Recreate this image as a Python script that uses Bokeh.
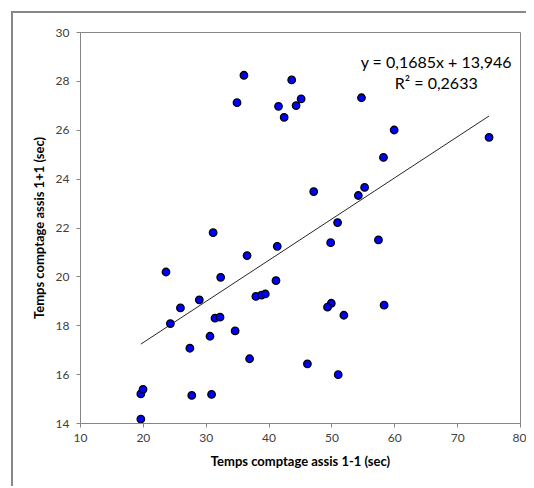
from bokeh.plotting import figure
from bokeh.models import Label, FixedTicker, Range1d, ColumnDataSource
from bokeh.embed import file_html
from bokeh.resources import INLINE

# Data
x_vals = [19.6, 19.6, 19.95, 27.7, 30.85, 27.4, 24.3, 25.9, 28.9, 30.6, 31.4, 32.2,
          23.6, 32.3, 34.6, 36.5, 36.9, 37.9, 38.8, 39.4, 31.1, 41.3, 41.1, 47.1,
          49.8, 50.9, 36.0, 34.9, 43.6, 41.5, 42.4, 44.3, 45.1, 59.9, 58.2, 55.2,
          54.2, 57.4, 75.0, 54.7, 49.9, 49.3, 51.9, 58.3, 46.1, 51.0]
y_vals = [14.18, 15.21, 15.40, 15.15, 15.19, 17.08, 18.09, 18.73, 19.06, 17.57, 18.31, 18.35,
          20.20, 19.98, 17.79, 20.87, 16.65, 19.20, 19.25, 19.30, 21.81, 21.25, 19.85, 23.49,
          21.40, 22.22, 28.25, 27.13, 28.06, 26.98, 26.53, 27.01, 27.28, 26.01, 24.89, 23.66,
          23.33, 21.51, 25.71, 27.33, 18.92, 18.76, 18.43, 18.84, 16.44, 16.00]
slope = 0.1685
intercept = 13.946
eq_text = "y = 0,1685x + 13,946"
r2_text = "R² = 0,2633"
x_ticks = [10, 20, 30, 40, 50, 60, 70, 80]
y_ticks = [14, 16, 18, 20, 22, 24, 26, 28, 30]
x_title = "Temps comptage assis 1-1 (sec)"
y_title = "Temps comptage assis 1+1 (sec)"

FONT = "Lato"
GRAY = "#868686"
TXT = "#404040"

p = figure(width=515, height=475, output_backend="svg", toolbar_location=None,
           x_range=Range1d(10, 80), y_range=Range1d(14, 30),
           min_border_left=67, min_border_top=19, min_border_right=8, min_border_bottom=65)
p.styles = {"border-left": "2px solid #888888", "border-top": "2px solid #888888",
            "margin-left": "11px", "margin-top": "11px"}

p.background_fill_color = "white"
p.border_fill_color = "white"
p.outline_line_color = GRAY
p.outline_line_width = 1
p.xgrid.visible = False
p.ygrid.visible = False

for ax, ticks in ((p.xaxis[0], x_ticks), (p.yaxis[0], y_ticks)):
    ax.ticker = FixedTicker(ticks=ticks)
    ax.axis_line_color = GRAY
    ax.major_tick_line_color = GRAY
    ax.major_tick_in = 0
    ax.major_tick_out = 4
    ax.minor_tick_line_color = None
    ax.major_label_text_font = FONT
    ax.major_label_text_font_size = "12px"
    ax.major_label_text_color = TXT
    ax.axis_label_text_font = FONT
    ax.axis_label_text_font_style = "bold"
    ax.axis_label_text_font_size = "13px"
    ax.axis_label_text_color = "black"

p.xaxis.axis_label = x_title
p.yaxis.axis_label = y_title
p.xaxis.major_label_standoff = 6
p.yaxis.major_label_standoff = 7
p.xaxis.axis_label_standoff = 8
p.yaxis.axis_label_standoff = 6

# Trendline across the data range
x0, x1 = min(x_vals), max(x_vals)
p.line([x0, x1], [slope * x0 + intercept, slope * x1 + intercept],
       line_color="#262626", line_width=1)

src = ColumnDataSource(dict(x=x_vals, y=y_vals))
p.scatter("x", "y", source=src, size=7.5, fill_color="#0000ff",
          line_color="black", line_width=1.3)

p.add_layout(Label(x=66.6, y=28.8, text=eq_text, text_align="center",
                   text_baseline="middle", text_font=FONT, text_font_size="16px",
                   text_color="black"))
p.add_layout(Label(x=66.6, y=27.95, text=r2_text, text_align="center",
                   text_baseline="middle", text_font=FONT, text_font_size="16px",
                   text_color="black"))

open("out.html", "w").write(file_html(p, INLINE))
